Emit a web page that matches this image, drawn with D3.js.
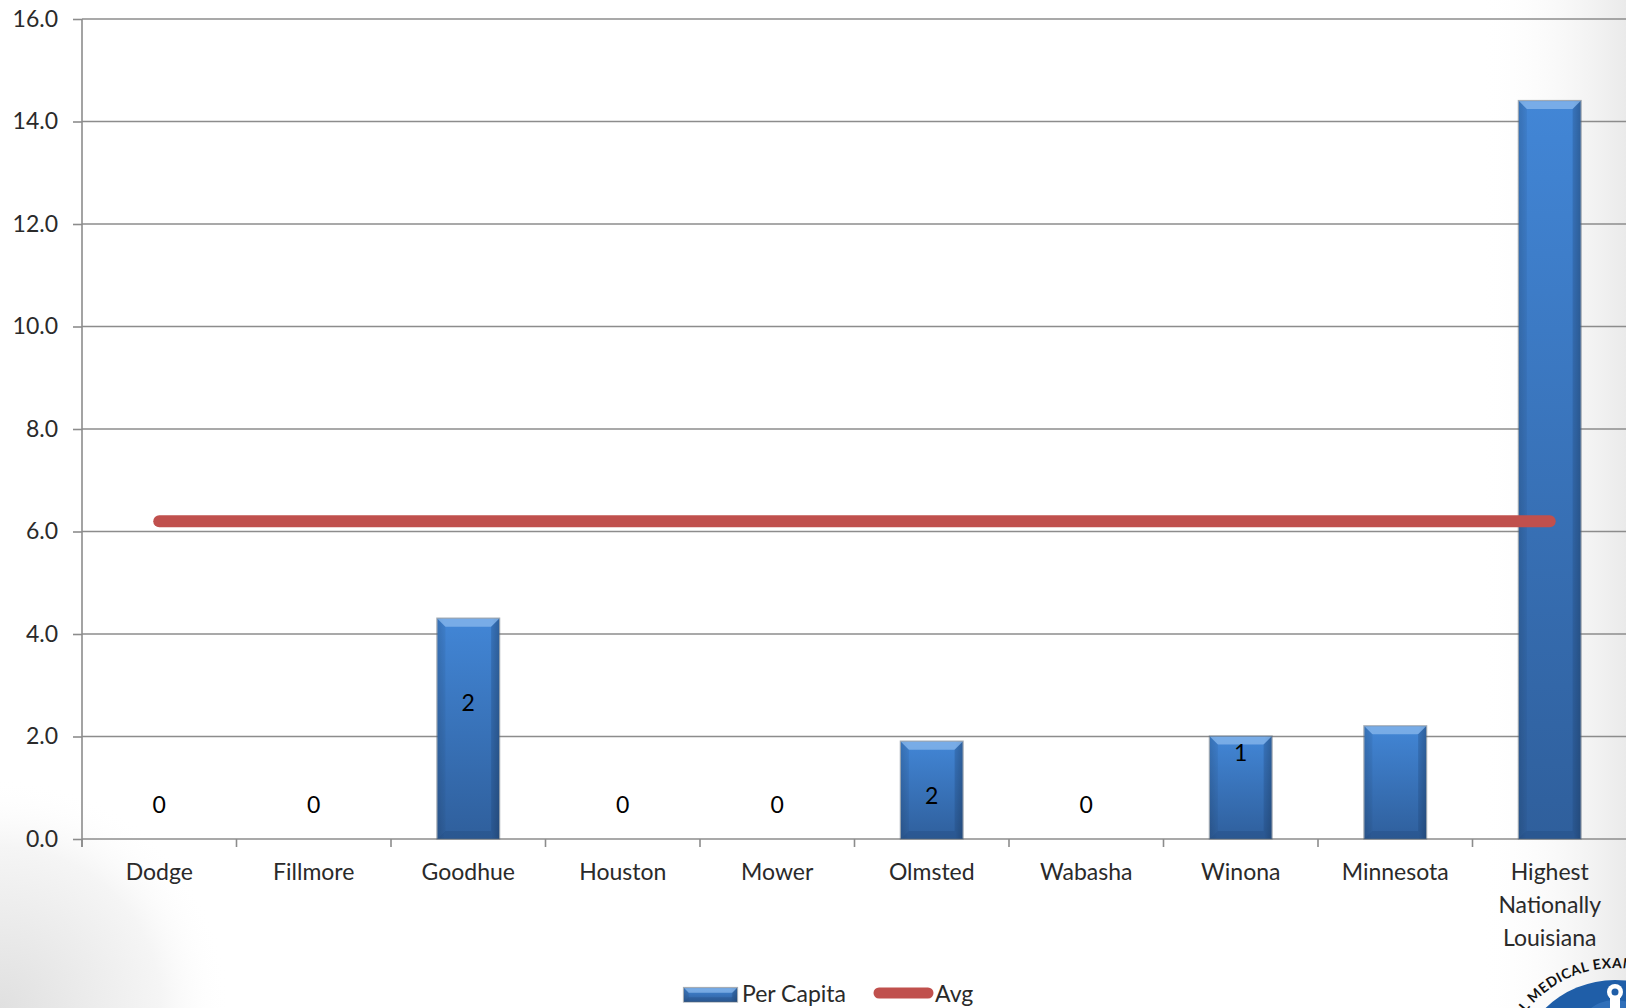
<!DOCTYPE html>
<html>
<head>
<meta charset="utf-8">
<script src="https://cdn.jsdelivr.net/npm/d3@7"></script>
<style>
  html, body { margin: 0; padding: 0; background: #ffffff; overflow: hidden; }
  svg { display: block; }
  text { font-family: Lato, "Open Sans", sans-serif; }
</style>
</head>
<body>
<svg id="chart" width="1626" height="1008"></svg>
<script>
// Per-capita rate by county, with the regional average drawn as a line.
const categories = ["Dodge", "Fillmore", "Goodhue", "Houston", "Mower", "Olmsted", "Wabasha", "Winona", "Minnesota", "Highest Nationally Louisiana"];
const perCapita = [0, 0, 4.3, 0, 0, 1.9, 0, 2.0, 2.2, 14.4];
const counts = ["0", "0", "2", "0", "0", "2", "0", "1", null, null];
const avg = 6.2;
const yTicks = [0, 2, 4, 6, 8, 10, 12, 14, 16];
const seriesNames = ["Per Capita", "Avg"];

// height on the value axis at which each count label is centred
const countLabelAt = [0.66, 0.66, 2.65, 0.66, 0.66, 0.84, 0.66, 1.68, null, null];

const W = 1626, H = 1008;
const FS = 23;
const svg = d3.select("#chart");
const defs = svg.append("defs");

// soft slide background
const rg = defs.append("radialGradient").attr("id", "cornerShade")
  .attr("gradientUnits", "userSpaceOnUse").attr("cx", 0).attr("cy", H).attr("r", 230);
rg.append("stop").attr("offset", "0").attr("stop-color", "#e0e0e0");
rg.append("stop").attr("offset", "0.7").attr("stop-color", "#f5f5f5");
rg.append("stop").attr("offset", "1").attr("stop-color", "#ffffff").attr("stop-opacity", 0);
const lg = defs.append("linearGradient").attr("id", "rightShade")
  .attr("gradientUnits", "userSpaceOnUse").attr("x1", 1480).attr("x2", W).attr("y1", 0).attr("y2", 0);
lg.append("stop").attr("offset", "0").attr("stop-color", "#ffffff").attr("stop-opacity", 0);
lg.append("stop").attr("offset", "1").attr("stop-color", "#eaeaea");
svg.append("rect").attr("width", W).attr("height", H).attr("fill", "#ffffff");
svg.append("rect").attr("width", W).attr("height", H).attr("fill", "url(#rightShade)");
svg.append("rect").attr("width", W).attr("height", H).attr("fill", "url(#cornerShade)");

// bar fill
const bg = defs.append("linearGradient").attr("id", "barFill")
  .attr("x1", 0).attr("x2", 0).attr("y1", 0).attr("y2", 1);
bg.append("stop").attr("offset", "0").attr("stop-color", "#4286d6");
bg.append("stop").attr("offset", "1").attr("stop-color", "#2f5f9c");
const bh = defs.append("linearGradient").attr("id", "barSide")
  .attr("x1", 0).attr("x2", 1).attr("y1", 0).attr("y2", 0);
bh.append("stop").attr("offset", "0").attr("stop-color", "#000").attr("stop-opacity", 0.10);
bh.append("stop").attr("offset", "0.12").attr("stop-color", "#000").attr("stop-opacity", 0);
bh.append("stop").attr("offset", "0.88").attr("stop-color", "#000").attr("stop-opacity", 0);
bh.append("stop").attr("offset", "1").attr("stop-color", "#000").attr("stop-opacity", 0.18);

const plot = { left: 82, right: 1627, top: 19, bottom: 839 };

const x = d3.scaleBand().domain(categories)
  .range([plot.left, plot.right]).paddingInner(0.6).paddingOuter(0.3);
const y = d3.scaleLinear().domain([0, 16]).range([plot.bottom, plot.top]);

const gridColor = "#8c8c8c";
const textColor = "#2a2a2a";

// horizontal gridlines
svg.append("g").selectAll("line").data(yTicks.filter(d => d > 0)).join("line")
  .attr("x1", plot.left).attr("x2", W)
  .attr("y1", d => y(d)).attr("y2", d => y(d))
  .attr("stroke", gridColor).attr("stroke-width", 1.6);

// value axis
const yAxis = svg.append("g").attr("transform", `translate(${plot.left},0)`)
  .call(d3.axisLeft(y).tickValues(yTicks).tickFormat(d3.format(".1f")).tickSize(9).tickPadding(15));
yAxis.select(".domain").attr("stroke", gridColor).attr("stroke-width", 1.6)
  .attr("d", `M0,${plot.top}V${plot.bottom + 8}`);
yAxis.selectAll(".tick line").attr("stroke", gridColor).attr("stroke-width", 1.6);
yAxis.selectAll(".tick text").attr("font-size", FS).attr("fill", textColor)
  .attr("font-family", "Lato, 'Open Sans', sans-serif");

// category axis baseline and boundary ticks
svg.append("line").attr("x1", plot.left).attr("x2", W)
  .attr("y1", y(0)).attr("y2", y(0)).attr("stroke", gridColor).attr("stroke-width", 1.6);
const step = x.step();
svg.append("g").selectAll("line").data(d3.range(categories.length + 1)).join("line")
  .attr("x1", i => plot.left + i * step).attr("x2", i => plot.left + i * step)
  .attr("y1", y(0)).attr("y2", y(0) + 8)
  .attr("stroke", gridColor).attr("stroke-width", 1.6);

// category labels
const catLines = {"Highest Nationally Louisiana": ["Highest", "Nationally", "Louisiana"]};
svg.append("g").selectAll("text").data(categories).join("text")
  .attr("x", d => x(d) + x.bandwidth() / 2)
  .attr("y", y(0) + 41)
  .attr("text-anchor", "middle").attr("font-size", FS).attr("fill", textColor)
  .each(function(d) {
    const lines = catLines[d] || [d];
    const t = d3.select(this);
    lines.forEach((ln, i) => t.append("tspan")
      .attr("x", x(d) + x.bandwidth() / 2).attr("dy", i === 0 ? 0 : 33).text(ln));
  });

// bevelled bars
function drawBar(g, x0, y0, w, h) {
  const b = Math.min(8, h / 3, w / 4);
  g.append("rect").attr("x", x0).attr("y", y0).attr("width", w).attr("height", h)
    .attr("fill", "url(#barFill)");
  g.append("rect").attr("x", x0).attr("y", y0).attr("width", w).attr("height", h)
    .attr("fill", "url(#barSide)");
  // top bevel
  g.append("path").attr("d", `M${x0},${y0}H${x0 + w}L${x0 + w - b},${y0 + b}H${x0 + b}Z`)
    .attr("fill", "#9cc7f4").attr("opacity", 0.6);
  // bottom bevel
  g.append("path").attr("d", `M${x0},${y0 + h}H${x0 + w}L${x0 + w - b},${y0 + h - b}H${x0 + b}Z`)
    .attr("fill", "#1d3f6e").attr("opacity", 0.25);
  // left / right bevels
  g.append("path").attr("d", `M${x0},${y0}L${x0 + b},${y0 + b}V${y0 + h - b}L${x0},${y0 + h}Z`)
    .attr("fill", "#1d3f6e").attr("opacity", 0.12);
  g.append("path").attr("d", `M${x0 + w},${y0}L${x0 + w - b},${y0 + b}V${y0 + h - b}L${x0 + w},${y0 + h}Z`)
    .attr("fill", "#1d3f6e").attr("opacity", 0.28);
  g.append("rect").attr("x", x0 - 0.5).attr("y", y0 - 0.5).attr("width", w + 1).attr("height", h + 0.5)
    .attr("fill", "none").attr("stroke", "#5a6878").attr("stroke-opacity", 0.55).attr("stroke-width", 1.2);
}
const bars = svg.append("g");
categories.forEach((c, i) => {
  const v = perCapita[i];
  if (v <= 0) return;
  drawBar(bars.append("g"), x(c), y(v), x.bandwidth(), y(0) - y(v));
});

// average line, centre of first category to centre of last
svg.append("line")
  .attr("x1", x(categories[0]) + x.bandwidth() / 2)
  .attr("x2", x(categories[categories.length - 1]) + x.bandwidth() / 2)
  .attr("y1", y(avg)).attr("y2", y(avg))
  .attr("stroke", "#c0504d").attr("stroke-width", 12).attr("stroke-linecap", "round");

// count labels
svg.append("g").selectAll("text").data(categories.map((c, i) => ({c, t: counts[i], at: countLabelAt[i]})).filter(d => d.t !== null))
  .join("text")
  .attr("x", d => x(d.c) + x.bandwidth() / 2)
  .attr("y", d => y(d.at))
  .attr("dy", "0.35em")
  .attr("text-anchor", "middle").attr("font-size", FS).attr("fill", "#000")
  .text(d => d.t);

// legend
const leg = svg.append("g");
drawBar(leg.append("g"), 684, 988, 53, 14);
leg.append("text").attr("x", 742).attr("y", 994).attr("dy", "0.35em")
  .attr("font-size", FS).attr("fill", textColor).text(seriesNames[0]);
leg.append("line").attr("x1", 879).attr("x2", 928).attr("y1", 993).attr("y2", 993)
  .attr("stroke", "#c0504d").attr("stroke-width", 11).attr("stroke-linecap", "round");
leg.append("text").attr("x", 935).attr("y", 994).attr("dy", "0.35em")
  .attr("font-size", FS).attr("fill", textColor).text(seriesNames[1]);

// seal in the lower-right corner
const sealText = "REGIONAL MEDICAL EXAMINER";
const sealR = 112, sealLead = 0.8;   // text radius, and how far the arc starts below the horizontal
const seal = svg.append("g").attr("transform", "translate(1615,1080)");
seal.append("circle").attr("r", 100).attr("fill", "#1f5ea8");
seal.append("circle").attr("cy", -40).attr("r", 40).attr("fill", "#3c7cc4").attr("opacity", 0.6);
seal.append("path")
  .attr("d", "M-80,-40 Q-46,-78 -8,-66 L-8,-22 Q-44,-32 -80,-40 Z M80,-40 Q46,-78 8,-66 L8,-22 Q44,-32 80,-40 Z")
  .attr("fill", "#ffffff");
seal.append("rect").attr("x", -5).attr("y", -88).attr("width", 10).attr("height", 74).attr("fill", "#ffffff");
seal.append("circle").attr("cy", -88).attr("r", 8).attr("fill", "#ffffff");
seal.append("circle").attr("cy", -88).attr("r", 3.5).attr("fill", "#1f5ea8");
defs.append("path").attr("id", "sealArc")
  .attr("d", `M${-sealR * Math.cos(sealLead)},${sealR * Math.sin(sealLead)} A${sealR},${sealR} 0 1 1 ${sealR},0`);
const sealT = seal.append("text").attr("font-size", 14).attr("font-weight", "bold").attr("fill", "#111")
  .attr("letter-spacing", 0.6);
const tp = sealT.append("textPath").attr("href", "#sealArc").text(sealText);
// place the second word a fixed distance along the arc from its left end
const lead = sealT.node().getSubStringLength(0, sealText.indexOf("MEDICAL"));
tp.attr("startOffset", sealLead * sealR + 84 - lead);
</script>
</body>
</html>
